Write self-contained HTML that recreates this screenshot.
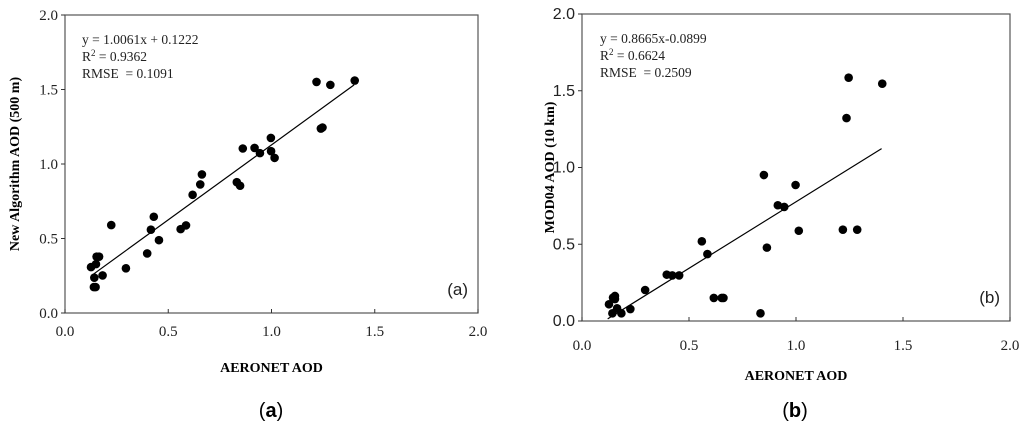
<!DOCTYPE html>
<html><head><meta charset="utf-8"><style>
html,body{margin:0;padding:0;background:#fff;width:1024px;height:432px;overflow:hidden}
svg{display:block}
.serif{font-family:"Liberation Serif",serif}
.sans{font-family:"Liberation Sans",sans-serif}
</style></head><body>
<svg id="fig" width="1024" height="432" viewBox="0 0 1024 432">
<text x="271" y="417" text-anchor="middle" font-size="20" font-family="Liberation Sans,sans-serif">(<tspan font-weight="bold">a</tspan>)</text>
<text x="795" y="417" text-anchor="middle" font-size="20" font-family="Liberation Sans,sans-serif">(<tspan font-weight="bold">b</tspan>)</text>
</svg>
<script>
const ticks=[0,0.5,1.0,1.5,2.0];
const tickLabels=["0.0","0.5","1.0","1.5","2.0"];
const aX=[0.126,0.142,0.14,0.148,0.15,0.153,0.165,0.182,0.224,0.295,0.398,0.416,0.43,0.455,0.56,0.586,0.618,0.655,0.663,0.832,0.848,0.861,0.918,0.944,0.997,0.998,1.015,1.218,1.239,1.247,1.285,1.403];
const aY=[0.308,0.237,0.174,0.174,0.328,0.378,0.378,0.252,0.59,0.30,0.40,0.559,0.646,0.489,0.563,0.588,0.793,0.863,0.93,0.878,0.854,1.104,1.108,1.073,1.175,1.086,1.041,1.551,1.238,1.245,1.531,1.56];
const bX=[0.126,0.142,0.145,0.154,0.154,0.164,0.184,0.226,0.295,0.396,0.422,0.454,0.56,0.586,0.616,0.653,0.661,0.834,0.85,0.864,0.915,0.945,0.998,1.013,1.219,1.236,1.246,1.286,1.403];
const bY=[0.109,0.05,0.152,0.163,0.143,0.083,0.05,0.078,0.202,0.302,0.297,0.297,0.519,0.436,0.15,0.15,0.15,0.05,0.951,0.478,0.754,0.743,0.886,0.588,0.595,1.322,1.585,0.595,1.546];
const aFit=[1.0061,0.1222,0.13,1.40];
const bFit=[0.8665,-0.0899,0.12,1.40];
const NS="http://www.w3.org/2000/svg";
const svg=document.getElementById('fig');
function mk(tag,attrs,parent){const e=document.createElementNS(NS,tag);for(const k in attrs)e.setAttribute(k,attrs[k]);(parent||svg).appendChild(e);return e;}
function panel(cfg){
  const g=mk('g',{});
  
  
  const sx=v=>cfg.x0+(cfg.x1-cfg.x0)*v/2, sy=v=>cfg.y0-(cfg.y0-cfg.y1)*v/2;
  const fr=mk('rect',{x:cfg.x0,y:cfg.y1,width:cfg.x1-cfg.x0,height:cfg.y0-cfg.y1,fill:'none',stroke:'#555','stroke-width':1.2},g);
  
  
  ticks.forEach((t,i)=>{
    mk('line',{x1:sx(t),x2:sx(t),y1:cfg.y0,y2:cfg.y0-4,stroke:'#333'},g);
    mk('line',{x1:cfg.x0,x2:cfg.x0-4,y1:sy(t),y2:sy(t),stroke:'#333'},g);
    const xt=mk('text',{x:sx(t),y:cfg.y0+cfg.xtOff,'text-anchor':'middle','font-size':15,class:'serif',fill:'#222'},g);
    xt.textContent=tickLabels[i];
    
    
    const yt=mk('text',{x:cfg.x0-7,y:sy(t)+5,'text-anchor':'end','font-size':cfg.ytSize,class:cfg.ytFont,fill:'#222'},g);
    yt.textContent=tickLabels[i];
    
    
  });
  const f=cfg.fit;
  const ln=mk('line',{x1:sx(f[2]),y1:sy(f[0]*f[2]+f[1]),x2:sx(f[3]),y2:sy(f[0]*f[3]+f[1]),stroke:'#000','stroke-width':1.2},g);
  
  
  cfg.xs.forEach((v,i)=>{
    const c=mk('circle',{cx:sx(v),cy:sy(cfg.ys[i]),r:4.3,fill:'#000'},g);
    
    
  });
  cfg.ann.forEach((s,i)=>{
    const t=mk('text',{x:cfg.x0+cfg.annDx,y:cfg.y1+29+i*17,'font-size':13.5,class:'serif',fill:'#222'},g);
    t.innerHTML=s;
    
    
  });
  const pl=mk('text',{x:cfg.x1-10,y:cfg.y0-18,'text-anchor':'end','font-size':17,class:'sans',fill:'#222'},g);
  pl.textContent=cfg.tag;
  
  
  const xtitle=mk('text',{x:(cfg.x0+cfg.x1)/2,y:cfg.xTitleY,'text-anchor':'middle','font-size':14,'font-weight':'bold',class:'serif'},g);
  xtitle.textContent='AERONET AOD';
  
  
  const yc=(cfg.y0+cfg.y1)/2;
  const ytitle=mk('text',{x:cfg.yTitleX,y:yc,'text-anchor':'middle','font-size':14,'font-weight':'bold',class:'serif',transform:`rotate(-90 ${cfg.yTitleX} ${yc})`},g);
  ytitle.textContent=cfg.yTitle;
  
  
}
panel({id:'panel-a',x0:65,x1:478,y0:313,y1:15,xs:aX,ys:aY,fit:aFit,xtOff:23,ytSize:15,ytFont:'serif',annDx:17,
  ann:['y = 1.0061x + 0.1222','R<tspan dy="-5" font-size="9">2</tspan><tspan dy="5"> = 0.9362</tspan>','RMSE&#160; = 0.1091'],
  tag:'(a)',xTitleY:372,yTitle:'New Algorithm AOD (500 m)',yTitleX:19});
panel({id:'panel-b',x0:582,x1:1010,y0:321,y1:14,xs:bX,ys:bY,fit:bFit,xtOff:29,ytSize:16,ytFont:'sans',annDx:18,
  ann:['y = 0.8665x-0.0899','R<tspan dy="-5" font-size="9">2</tspan><tspan dy="5"> = 0.6624</tspan>','RMSE&#160; = 0.2509'],
  tag:'(b)',xTitleY:380,yTitle:'MOD04 AOD (10 km)',yTitleX:554});
</script>
</body></html>
